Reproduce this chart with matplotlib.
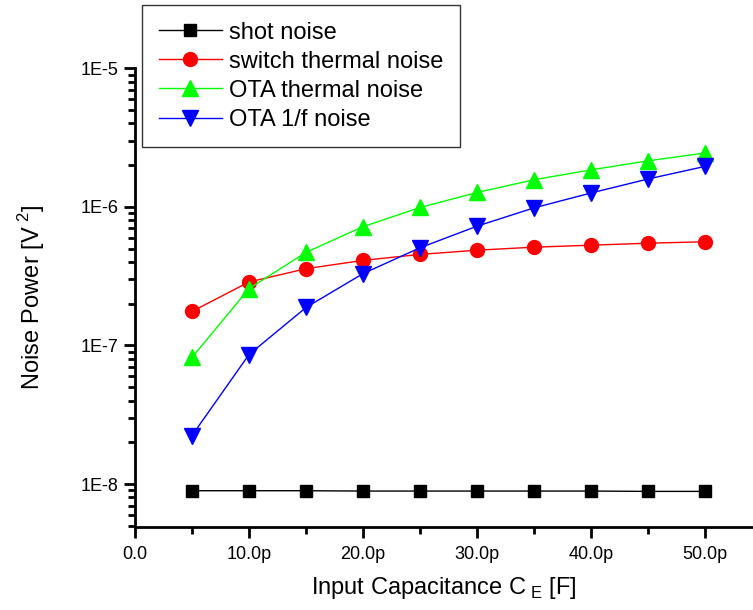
import numpy as np
import matplotlib
matplotlib.use('Agg')
import matplotlib.pyplot as plt
from matplotlib.ticker import FixedLocator, LogLocator, NullFormatter

plt.rcParams['font.family'] = ['Liberation Sans', 'DejaVu Sans']

cap = [5, 10, 15, 20, 25, 30, 35, 40, 45, 50]  # pF
shot = [8.95e-9, 8.95e-9, 8.95e-9, 8.9e-9, 8.9e-9, 8.9e-9, 8.9e-9, 8.9e-9, 8.85e-9, 8.85e-9]
switch = [1.76e-7, 2.87e-7, 3.58e-7, 4.11e-7, 4.54e-7, 4.87e-7, 5.12e-7, 5.29e-7, 5.47e-7, 5.6e-7]
ota_thermal = [8.2e-8, 2.57e-7, 4.7e-7, 7.2e-7, 9.9e-7, 1.27e-6, 1.57e-6, 1.85e-6, 2.15e-6, 2.45e-6]
ota_flicker = [2.24e-8, 8.6e-8, 1.88e-7, 3.3e-7, 5.07e-7, 7.26e-7, 9.84e-7, 1.26e-6, 1.59e-6, 1.96e-6]

xticks = [0, 10, 20, 30, 40, 50]
xlabels = ['0.0', '10.0p', '20.0p', '30.0p', '40.0p', '50.0p']
yticks = [1e-8, 1e-7, 1e-6, 1e-5]
ylabels = ['1E-8', '1E-7', '1E-6', '1E-5']

W, H = 753, 610
fig = plt.figure(figsize=(W / 100, H / 100), dpi=100)
ax = fig.add_axes([135 / W, 1 - 527 / H, 1 - 135 / W, (527 - 68.3) / H])

ax.plot(cap, shot, color='black', lw=1, marker='s', ms=8, label='shot noise')
ax.plot(cap, switch, color='red', lw=1, marker='o', ms=10, label='switch thermal noise')
ax.plot(cap, ota_thermal, color='#00ff00', lw=1, marker='^', ms=11, label='OTA thermal noise')
ax.plot(cap, ota_flicker, color='blue', lw=1, marker='v', ms=11, label='OTA 1/f noise')

ax.set_yscale('log')
ax.set_xlim(0, 54.2)
ax.set_ylim(10**-8.31, 1e-5)

ax.xaxis.set_major_locator(FixedLocator(xticks))
ax.set_xticklabels(xlabels)
ax.xaxis.set_minor_locator(FixedLocator([5, 15, 25, 35, 45]))
ax.yaxis.set_major_locator(FixedLocator(yticks))
ax.set_yticklabels(ylabels)
ax.yaxis.set_minor_locator(LogLocator(base=10, subs=np.arange(2, 10)))
ax.yaxis.set_minor_formatter(NullFormatter())

for s in ['top', 'right']:
    ax.spines[s].set_visible(False)
for s in ['left', 'bottom']:
    ax.spines[s].set_linewidth(2)

ax.tick_params(which='major', length=8, width=2, labelsize=13, direction='out')
ax.tick_params(which='minor', length=5, width=2, direction='out')
ax.tick_params(axis='x', which='major', pad=6)
ax.tick_params(axis='y', which='major', pad=4)

ax.set_xlabel('Input Capacitance C$_{\\ \\mathregular{E}}$ [F]', fontsize=17, labelpad=8)
ax.set_ylabel('Noise Power [V$^{\\ \\mathregular{2}}$]', fontsize=17, labelpad=24)

handles, labels = ax.get_legend_handles_labels()
leg = fig.legend(handles, labels, loc='upper left', bbox_to_anchor=(142 / W, 1 - 5 / H),
                 fontsize=17, frameon=True, fancybox=False, edgecolor='black',
                 handlelength=2.7, labelspacing=0.3, borderpad=0.7, handletextpad=0.3,
                 borderaxespad=0)
leg.get_frame().set_linewidth(1)

fig.savefig('out.png', dpi=100)
